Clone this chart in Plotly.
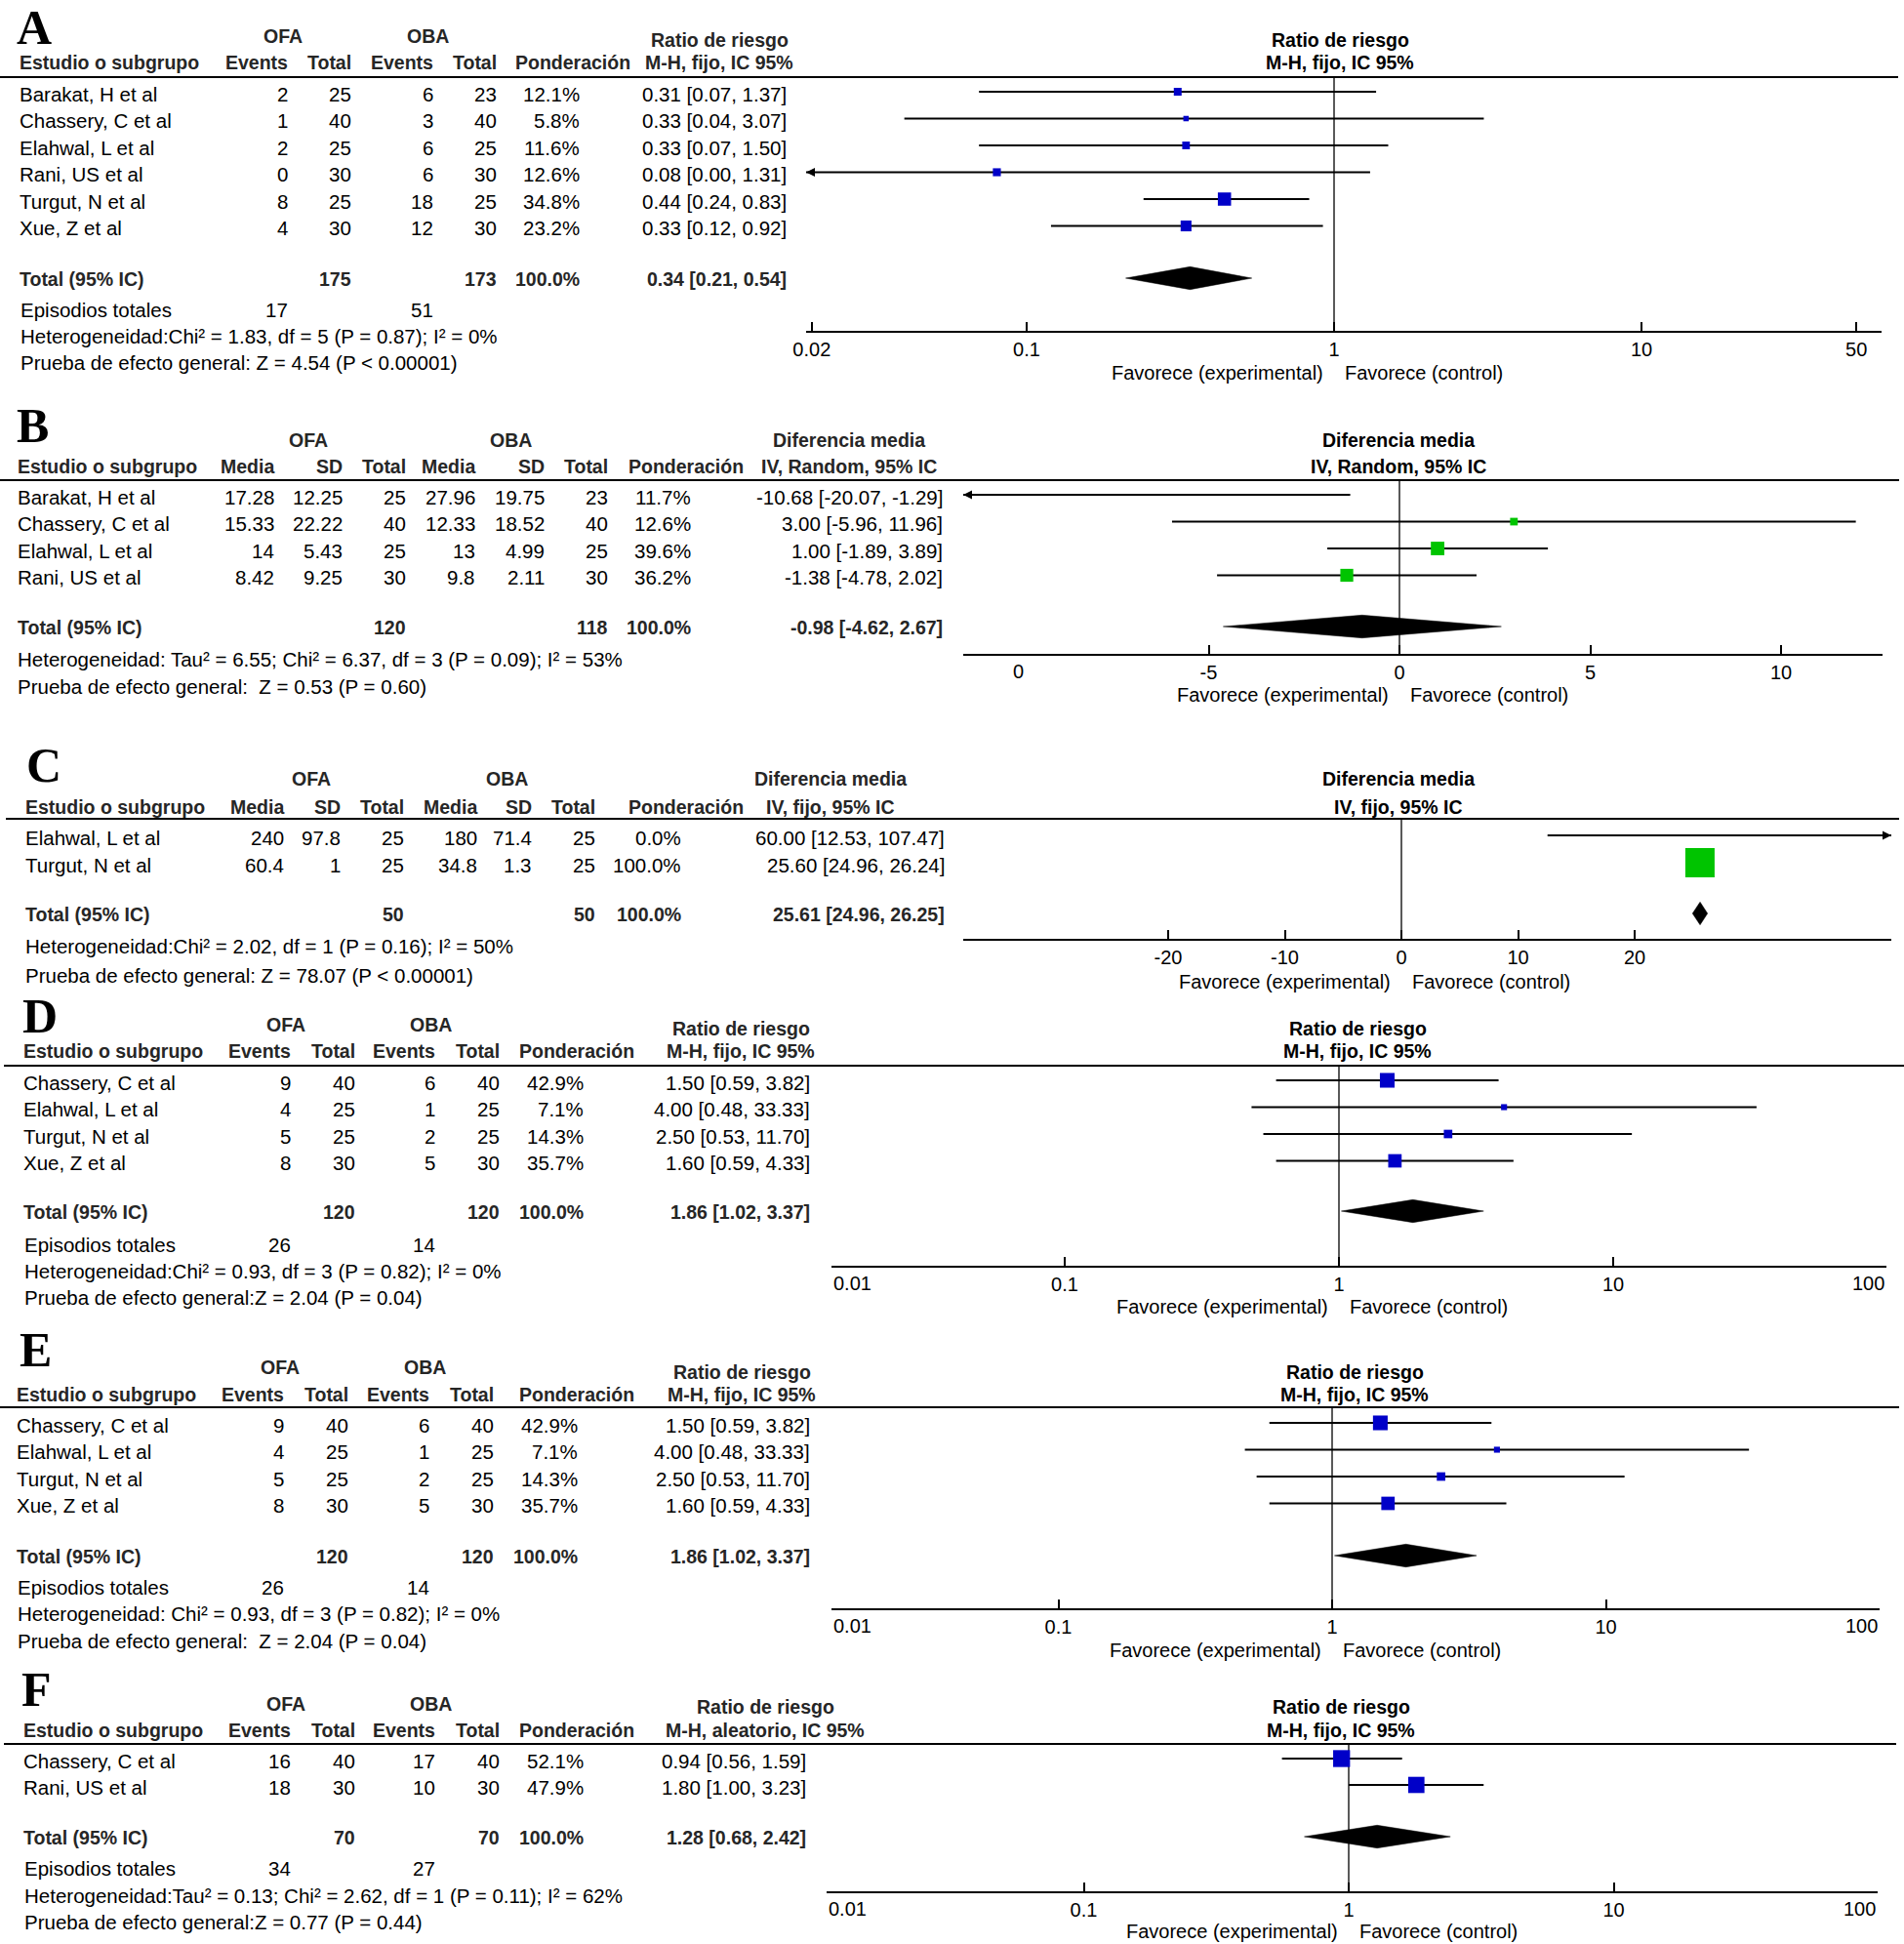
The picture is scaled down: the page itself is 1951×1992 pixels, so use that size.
import math
import plotly.graph_objects as go

W, H = 1951, 1992
SANS = "Liberation Sans, Arial, Helvetica, sans-serif"
SERIF = "Liberation Serif, Times New Roman, serif"
BLUE = "#0000C8"
GREEN = "#00C400"
HDR = "#262626"

# ---------------- Panel A ----------------
A_studies = ["Barakat, H et al", "Chassery, C et al", "Elahwal, L et al",
             "Rani, US et al", "Turgut, N et al", "Xue, Z et al"]
A_ofa_events = [2, 1, 2, 0, 8, 4]
A_ofa_total = [25, 40, 25, 30, 25, 30]
A_oba_events = [6, 3, 6, 6, 18, 12]
A_oba_total = [23, 40, 25, 30, 25, 30]
A_weight = [12.1, 5.8, 11.6, 12.6, 34.8, 23.2]
A_est = [0.31, 0.33, 0.33, 0.08, 0.44, 0.33]
A_lo = [0.07, 0.04, 0.07, 0.00, 0.24, 0.12]
A_hi = [1.37, 3.07, 1.50, 1.31, 0.83, 0.92]
A_total_n = [175, 173]
A_total_events = [17, 51]
A_total_ci = [0.34, 0.21, 0.54]
A_het = "Heterogeneidad:Chi² = 1.83, df = 5 (P = 0.87); I² = 0%"
A_test = "Prueba de efecto general: Z = 4.54 (P &lt; 0.00001)"
A_ticks = [0.02, 0.1, 1, 10, 50]
A_ticklabels = ["0.02", "0.1", "1", "10", "50"]

# ---------------- Panel B ----------------
B_studies = ["Barakat, H et al", "Chassery, C et al", "Elahwal, L et al", "Rani, US et al"]
B_ofa_mean = [17.28, 15.33, 14, 8.42]
B_ofa_sd = [12.25, 22.22, 5.43, 9.25]
B_ofa_total = [25, 40, 25, 30]
B_oba_mean = [27.96, 12.33, 13, 9.8]
B_oba_sd = [19.75, 18.52, 4.99, 2.11]
B_oba_total = [23, 40, 25, 30]
B_weight = [11.7, 12.6, 39.6, 36.2]
B_est = [-10.68, 3.00, 1.00, -1.38]
B_lo = [-20.07, -5.96, -1.89, -4.78]
B_hi = [-1.29, 11.96, 3.89, 2.02]
B_show = [False, True, True, True]
B_total_n = [120, 118]
B_total_ci = [-0.98, -4.62, 2.67]
B_het = "Heterogeneidad: Tau² = 6.55; Chi² = 6.37, df = 3 (P = 0.09); I² = 53%"
B_test = "Prueba de efecto general:\u00a0 Z = 0.53 (P = 0.60)"
B_ticks = [-5, 0, 5, 10]
B_ticklabels = ["-5", "0", "5", "10"]
B_extra_tick = [-10]
B_extra_label = ["0"]

# ---------------- Panel C ----------------
C_studies = ["Elahwal, L et al", "Turgut, N et al"]
C_ofa_mean = [240, 60.4]
C_ofa_sd = [97.8, 1]
C_ofa_total = [25, 25]
C_oba_mean = [180, 34.8]
C_oba_sd = [71.4, 1.3]
C_oba_total = [25, 25]
C_weight = [0.0, 100.0]
C_est = [60.00, 25.60]
C_lo = [12.53, 24.96]
C_hi = [107.47, 26.24]
C_total_n = [50, 50]
C_total_ci = [25.61, 24.96, 26.25]
C_het = "Heterogeneidad:Chi² = 2.02, df = 1 (P = 0.16); I² = 50%"
C_test = "Prueba de efecto general: Z = 78.07 (P &lt; 0.00001)"
C_ticks = [-20, -10, 0, 10, 20]
C_ticklabels = ["-20", "-10", "0", "10", "20"]

# ---------------- Panel D ----------------
D_studies = ["Chassery, C et al", "Elahwal, L et al", "Turgut, N et al", "Xue, Z et al"]
D_ofa_events = [9, 4, 5, 8]
D_ofa_total = [40, 25, 25, 30]
D_oba_events = [6, 1, 2, 5]
D_oba_total = [40, 25, 25, 30]
D_weight = [42.9, 7.1, 14.3, 35.7]
D_est = [1.50, 4.00, 2.50, 1.60]
D_lo = [0.59, 0.48, 0.53, 0.59]
D_hi = [3.82, 33.33, 11.70, 4.33]
D_total_n = [120, 120]
D_total_events = [26, 14]
D_total_ci = [1.86, 1.02, 3.37]
D_het = "Heterogeneidad:Chi² = 0.93, df = 3 (P = 0.82); I² = 0%"
D_test = "Prueba de efecto general:Z = 2.04 (P = 0.04)"

# ---------------- Panel E ----------------
E_studies = ["Chassery, C et al", "Elahwal, L et al", "Turgut, N et al", "Xue, Z et al"]
E_ofa_events = [9, 4, 5, 8]
E_ofa_total = [40, 25, 25, 30]
E_oba_events = [6, 1, 2, 5]
E_oba_total = [40, 25, 25, 30]
E_weight = [42.9, 7.1, 14.3, 35.7]
E_est = [1.50, 4.00, 2.50, 1.60]
E_lo = [0.59, 0.48, 0.53, 0.59]
E_hi = [3.82, 33.33, 11.70, 4.33]
E_total_n = [120, 120]
E_total_events = [26, 14]
E_total_ci = [1.86, 1.02, 3.37]
E_het = "Heterogeneidad: Chi² = 0.93, df = 3 (P = 0.82); I² = 0%"
E_test = "Prueba de efecto general:\u00a0 Z = 2.04 (P = 0.04)"

# ---------------- Panel F ----------------
F_studies = ["Chassery, C et al", "Rani, US et al"]
F_ofa_events = [16, 18]
F_ofa_total = [40, 30]
F_oba_events = [17, 10]
F_oba_total = [40, 30]
F_weight = [52.1, 47.9]
F_est = [0.94, 1.80]
F_lo = [0.56, 1.00]
F_hi = [1.59, 3.23]
F_total_n = [70, 70]
F_total_events = [34, 27]
F_total_ci = [1.28, 0.68, 2.42]
F_het = "Heterogeneidad:Tau² = 0.13; Chi² = 2.62, df = 1 (P = 0.11); I² = 62%"
F_test = "Prueba de efecto general:Z = 0.77 (P = 0.44)"

RR_ticks = [0.01, 0.1, 1, 10, 100]
RR_ticklabels = ["0.01", "0.1", "1", "10", "100"]

BIN_HEADERS = ["Events", "Total", "Events", "Total"]
CONT_HEADERS = ["Media", "SD", "Total", "Media", "SD", "Total"]

# ---------------- layout (pixel positions) ----------------
LAY = {
    "A": dict(letter=(16, 29), grp_y=38, group_x=[290, 438], meth_x=737, meth_y=[42, 65], hdr_y=65,
              name_x=18, col_right=[297, 362, 446, 511], pond_right=596, pond_hdr_x=587, ci_right=808,
              rule_y=79, rule_x=(0, 1945), row0=97, dy=27.5, total_y=287, epi_y=318, het_y=345, test_y=372,
              foot_x=19, fx=(826, 1928), null_px=1367, scale=315, axis_y=340, rmeth_x=1373, fav_y=383, k=2.3),
    "B": dict(letter=(16, 437), grp_y=452, group_x=[316, 523], meth_x=870, meth_y=[452, 479], hdr_y=479,
              name_x=16, col_right=[283, 353, 418, 489, 560, 625], pond_right=710, pond_hdr_x=703, ci_right=968,
              rule_y=492, rule_x=(0, 1946), row0=510, dy=27.5, total_y=644, epi_y=None, het_y=676, test_y=704,
              foot_x=16, fx=(987, 1929), null_px=1434, scale=39.1, axis_y=671, rmeth_x=1433, fav_y=713, k=2.2),
    "C": dict(letter=(26, 785), grp_y=799, group_x=[319, 519], meth_x=851, meth_y=[799, 828], hdr_y=828,
              name_x=24, col_right=[293, 351, 416, 491, 547, 612], pond_right=700, pond_hdr_x=703, ci_right=970,
              rule_y=839, rule_x=(6, 1946), row0=859, dy=28, total_y=938, epi_y=None, het_y=970, test_y=1000,
              foot_x=24, fx=(987, 1938), null_px=1436, scale=11.95, axis_y=963, rmeth_x=1433, fav_y=1007, k=3.0),
    "D": dict(letter=(22, 1042), grp_y=1051, group_x=[293, 441], meth_x=759, meth_y=[1055, 1078], hdr_y=1078,
              name_x=22, col_right=[300, 366, 448, 514], pond_right=600, pond_hdr_x=591, ci_right=832,
              rule_y=1092, rule_x=(4, 1951), row0=1110, dy=27.5, total_y=1243, epi_y=1276, het_y=1303, test_y=1330,
              foot_x=23, fx=(852, 1933), null_px=1372, scale=281, axis_y=1298, rmeth_x=1391, fav_y=1340, k=2.3),
    "E": dict(letter=(19, 1384), grp_y=1402, group_x=[287, 435], meth_x=760, meth_y=[1407, 1430], hdr_y=1430,
              name_x=15, col_right=[293, 359, 442, 508], pond_right=594, pond_hdr_x=591, ci_right=832,
              rule_y=1442, rule_x=(0, 1946), row0=1461, dy=27.5, total_y=1596, epi_y=1627, het_y=1654, test_y=1682,
              foot_x=16, fx=(852, 1926), null_px=1365, scale=280.5, axis_y=1649, rmeth_x=1388, fav_y=1692, k=2.3),
    "F": dict(letter=(21, 1732), grp_y=1747, group_x=[293, 441], meth_x=784, meth_y=[1750, 1774], hdr_y=1774,
              name_x=22, col_right=[300, 366, 448, 514], pond_right=600, pond_hdr_x=591, ci_right=828,
              rule_y=1787, rule_x=(4, 1943), row0=1805, dy=27, total_y=1884, epi_y=1915, het_y=1943, test_y=1970,
              foot_x=23, fx=(847, 1924), null_px=1382, scale=271.5, axis_y=1939, rmeth_x=1374, fav_y=1980, k=2.4),
}

panels = [
    dict(name="A", kind="bin", studies=A_studies, cols=[A_ofa_events, A_ofa_total, A_oba_events, A_oba_total],
         weight=A_weight, est=A_est, lo=A_lo, hi=A_hi, show=None, total_n=A_total_n, total_events=A_total_events,
         total_ci=A_total_ci, het=A_het, test=A_test, ticks=A_ticks, ticklabels=A_ticklabels, log=True,
         meth=["Ratio de riesgo", "M-H, fijo, IC 95%"], rmeth=["Ratio de riesgo", "M-H, fijo, IC 95%"], color=BLUE),
    dict(name="B", kind="cont", studies=B_studies,
         cols=[B_ofa_mean, B_ofa_sd, B_ofa_total, B_oba_mean, B_oba_sd, B_oba_total],
         weight=B_weight, est=B_est, lo=B_lo, hi=B_hi, show=B_show, total_n=B_total_n, total_events=None,
         total_ci=B_total_ci, het=B_het, test=B_test, ticks=B_ticks, ticklabels=B_ticklabels, log=False,
         extra=(B_extra_tick, B_extra_label),
         meth=["Diferencia media", "IV, Random, 95% IC"], rmeth=["Diferencia media", "IV, Random, 95% IC"], color=GREEN),
    dict(name="C", kind="cont", studies=C_studies,
         cols=[C_ofa_mean, C_ofa_sd, C_ofa_total, C_oba_mean, C_oba_sd, C_oba_total],
         weight=C_weight, est=C_est, lo=C_lo, hi=C_hi, show=None, total_n=C_total_n, total_events=None,
         total_ci=C_total_ci, het=C_het, test=C_test, ticks=C_ticks, ticklabels=C_ticklabels, log=False,
         meth=["Diferencia media", "IV, fijo, 95% IC"], rmeth=["Diferencia media", "IV, fijo, 95% IC"], color=GREEN),
    dict(name="D", kind="bin", studies=D_studies, cols=[D_ofa_events, D_ofa_total, D_oba_events, D_oba_total],
         weight=D_weight, est=D_est, lo=D_lo, hi=D_hi, show=None, total_n=D_total_n, total_events=D_total_events,
         total_ci=D_total_ci, het=D_het, test=D_test, ticks=RR_ticks, ticklabels=RR_ticklabels, log=True,
         meth=["Ratio de riesgo", "M-H, fijo, IC 95%"], rmeth=["Ratio de riesgo", "M-H, fijo, IC 95%"], color=BLUE),
    dict(name="E", kind="bin", studies=E_studies, cols=[E_ofa_events, E_ofa_total, E_oba_events, E_oba_total],
         weight=E_weight, est=E_est, lo=E_lo, hi=E_hi, show=None, total_n=E_total_n, total_events=E_total_events,
         total_ci=E_total_ci, het=E_het, test=E_test, ticks=RR_ticks, ticklabels=RR_ticklabels, log=True,
         meth=["Ratio de riesgo", "M-H, fijo, IC 95%"], rmeth=["Ratio de riesgo", "M-H, fijo, IC 95%"], color=BLUE),
    dict(name="F", kind="bin", studies=F_studies, cols=[F_ofa_events, F_ofa_total, F_oba_events, F_oba_total],
         weight=F_weight, est=F_est, lo=F_lo, hi=F_hi, show=None, total_n=F_total_n, total_events=F_total_events,
         total_ci=F_total_ci, het=F_het, test=F_test, ticks=RR_ticks, ticklabels=RR_ticklabels, log=True,
         meth=["Ratio de riesgo", "M-H, aleatorio, IC 95%"], rmeth=["Ratio de riesgo", "M-H, fijo, IC 95%"], color=BLUE),
]

DATA_SIZE = 20.5
HDR_SIZE = 19.5
TICK_SIZE = 20
LETTER_SIZE = 50
MARK_DY = -3
TEXT_DY = -1
TICKLABEL_DY = 17
DIAMOND_HALF = 11.7

annotations = []
shapes = []
axes = {}
fig = go.Figure()

# hidden pixel-space axes used for table text
fig.add_trace(go.Scatter(x=[], y=[], xaxis="x", yaxis="y", showlegend=False))


def txt(x, y, s, anchor="left", size=DATA_SIZE, color="black", bold=False, family=SANS, xref="x", xshift=0, pad=1):
    annotations.append(dict(x=x, y=y + TEXT_DY, xref=xref, yref="y", text=(f"<b>{s}</b>" if bold else s),
                            showarrow=False, xanchor=anchor, yanchor="middle", xshift=xshift, borderpad=pad,
                            font=dict(family=family, size=size, color=color)))


def fmt(v):
    return f"{v:g}"


for idx, p in enumerate(panels):
    L = LAY[p["name"]]
    aid = idx + 2
    xr = f"x{aid}"
    # ---- table text ----
    txt(L["letter"][0], L["letter"][1], p["name"], size=LETTER_SIZE, bold=True, family=SERIF, pad=0)
    for g, gx in zip(["OFA", "OBA"], L["group_x"]):
        txt(gx, L["grp_y"], g, anchor="center", size=HDR_SIZE, color=HDR, bold=True)
    headers = BIN_HEADERS if p["kind"] == "bin" else CONT_HEADERS
    txt(L["name_x"], L["hdr_y"], "Estudio o subgrupo", size=HDR_SIZE, color=HDR, bold=True)
    for h, cx in zip(headers, L["col_right"]):
        txt(cx, L["hdr_y"], h, anchor="right", size=HDR_SIZE, color=HDR, bold=True)
    txt(L["pond_hdr_x"], L["hdr_y"], "Ponderación", anchor="center", size=HDR_SIZE, color=HDR, bold=True)
    for line, my in zip(p["meth"], L["meth_y"]):
        txt(L["meth_x"], my, line, anchor="center", size=HDR_SIZE, color=HDR, bold=True)
    for line, my in zip(p["rmeth"], L["meth_y"]):
        txt(L["rmeth_x"], my, line, anchor="center", size=HDR_SIZE, color="black", bold=True)
    shapes.append(dict(type="line", xref="x", yref="y", x0=L["rule_x"][0], x1=L["rule_x"][1],
                       y0=L["rule_y"], y1=L["rule_y"], line=dict(color="black", width=2)))

    row_y = [L["row0"] + i * L["dy"] for i in range(len(p["studies"]))]
    for i, s in enumerate(p["studies"]):
        y = row_y[i]
        txt(L["name_x"], y, s)
        for col, cx in zip(p["cols"], L["col_right"]):
            txt(cx, y, fmt(col[i]), anchor="right")
        txt(L["pond_right"], y, f"{p['weight'][i]:.1f}%", anchor="right")
        txt(L["ci_right"], y, f"{p['est'][i]:.2f} [{p['lo'][i]:.2f}, {p['hi'][i]:.2f}]", anchor="right")

    ty = L["total_y"]
    txt(L["name_x"], ty, "Total (95% IC)", color=HDR, bold=True, size=HDR_SIZE)
    tot_cols = [1, 3] if p["kind"] == "bin" else [2, 5]
    for n, ci in zip(p["total_n"], tot_cols):
        txt(L["col_right"][ci], ty, fmt(n), anchor="right", color=HDR, bold=True, size=HDR_SIZE)
    txt(L["pond_right"], ty, "100.0%", anchor="right", color=HDR, bold=True, size=HDR_SIZE)
    te, tl, th = p["total_ci"]
    txt(L["ci_right"], ty, f"{te:.2f} [{tl:.2f}, {th:.2f}]", anchor="right", color=HDR, bold=True, size=HDR_SIZE)
    if p["total_events"] is not None:
        txt(L["foot_x"], L["epi_y"], "Episodios totales")
        for n, ci in zip(p["total_events"], [0, 2]):
            txt(L["col_right"][ci], L["epi_y"], fmt(n), anchor="right")
    txt(L["foot_x"], L["het_y"], p["het"])
    txt(L["foot_x"], L["test_y"], p["test"])

    # ---- forest axis ----
    rng = [(L["fx"][0] - L["null_px"]) / L["scale"], (L["fx"][1] - L["null_px"]) / L["scale"]]
    if p["log"]:
        lo_edge, hi_edge, null = 10 ** rng[0], 10 ** rng[1], 1
        lo_in, hi_in = lo_edge * 1.002, hi_edge * 0.998
    else:
        lo_edge, hi_edge, null = rng[0], rng[1], 0
        lo_in, hi_in = lo_edge, hi_edge
    tv, tt = [], []
    lab_y = L["axis_y"] + TICKLABEL_DY
    for v, lab in zip(p["ticks"], p["ticklabels"]):
        if v <= lo_in:
            # end tick pinned to the axis start; label drawn inward of it
            tv.append(lo_in); tt.append("")
            annotations.append(dict(x=rng[0], y=lab_y, xref=xr, yref="y", text=lab, showarrow=False,
                                    xanchor="left", yanchor="middle",
                                    font=dict(family=SANS, size=TICK_SIZE, color="black")))
        elif v >= hi_in:
            tv.append(hi_in); tt.append("")
            annotations.append(dict(x=rng[1], y=lab_y, xref=xr, yref="y", text=lab, showarrow=False,
                                    xanchor="right", yanchor="middle",
                                    font=dict(family=SANS, size=TICK_SIZE, color="black")))
        else:
            tv.append(v); tt.append(lab)
    axes[f"xaxis{aid}"] = dict(
        type="log" if p["log"] else "linear", range=rng, domain=[L["fx"][0] / W, L["fx"][1] / W],
        anchor="free", position=1 - L["axis_y"] / H, showline=True, linecolor="black", linewidth=2,
        ticks="inside", ticklen=9, tickwidth=1.5, tickcolor="black", tickvals=tv, ticktext=tt,
        tickfont=dict(family=SANS, size=TICK_SIZE, color="black"), showgrid=False, zeroline=False,
        fixedrange=True, automargin=False, ticklabelstandoff=0)
    if "extra" in p:
        for v, lab in zip(*p["extra"]):
            annotations.append(dict(x=v, y=lab_y, xref=xr, yref="y", text=lab, showarrow=False,
                                    xanchor="center", yanchor="middle",
                                    font=dict(family=SANS, size=TICK_SIZE, color="black")))
    # favours labels
    txt(0, L["fav_y"], "Favorece (experimental)", anchor="right", size=TICK_SIZE, xref=xr, xshift=-9)
    txt(0, L["fav_y"], "Favorece (control)", anchor="left", size=TICK_SIZE, xref=xr, xshift=9)

    # null line
    fig.add_trace(go.Scatter(x=[null, null], y=[L["rule_y"], L["axis_y"]], mode="lines",
                             line=dict(color="black", width=1.3), xaxis=xr, yaxis="y",
                             showlegend=False, hoverinfo="skip", cliponaxis=False))
    # CI lines + arrows
    cx, cy, al_x, al_y, ar_x, ar_y = [], [], [], [], [], []
    for i in range(len(p["studies"])):
        y = row_y[i] + MARK_DY
        lo, hi = p["lo"][i], p["hi"][i]
        a = lo if lo > lo_edge else lo_edge
        b = hi if hi < hi_edge else hi_edge
        cx += [a, b, None]
        cy += [y, y, None]
        if lo < lo_edge:
            al_x.append(lo_edge); al_y.append(y)
        if hi > hi_edge:
            ar_x.append(hi_edge); ar_y.append(y)
    fig.add_trace(go.Scatter(x=cx, y=cy, mode="lines", line=dict(color="black", width=1.8),
                             xaxis=xr, yaxis="y", showlegend=False, hoverinfo="skip", cliponaxis=False))
    if al_x:
        fig.add_trace(go.Scatter(x=al_x, y=al_y, mode="markers",
                                 marker=dict(symbol="arrow-left", size=9, color="black", opacity=1),
                                 xaxis=xr, yaxis="y", showlegend=False, hoverinfo="skip", cliponaxis=False))
    if ar_x:
        fig.add_trace(go.Scatter(x=ar_x, y=ar_y, mode="markers",
                                 marker=dict(symbol="arrow-right", size=9, color="black", opacity=1),
                                 xaxis=xr, yaxis="y", showlegend=False, hoverinfo="skip", cliponaxis=False))
    # study squares
    mx, my, ms = [], [], []
    for i in range(len(p["studies"])):
        e = p["est"][i]
        visible = p["show"][i] if p["show"] else True
        if visible and lo_edge <= e <= hi_edge and p["weight"][i] > 0:
            mx.append(e)
            my.append(row_y[i] + MARK_DY)
            ms.append(L["k"] * math.sqrt(p["weight"][i]))
    fig.add_trace(go.Scatter(x=mx, y=my, mode="markers",
                             marker=dict(symbol="square", size=ms, color=p["color"], opacity=1,
                                         line=dict(width=0)),
                             xaxis=xr, yaxis="y", showlegend=False, hoverinfo="skip", cliponaxis=False))
    # pooled diamond
    dy0 = ty + MARK_DY + 1
    fig.add_trace(go.Scatter(x=[tl, te, th, te, tl], y=[dy0, dy0 - DIAMOND_HALF, dy0, dy0 + DIAMOND_HALF, dy0],
                             mode="lines", fill="toself", fillcolor="black", line=dict(color="black", width=0.5),
                             xaxis=xr, yaxis="y", showlegend=False, hoverinfo="skip", cliponaxis=False))

fig.update_layout(
    width=W, height=H, margin=dict(l=0, r=0, t=0, b=0, pad=0, autoexpand=False),
    paper_bgcolor="white", plot_bgcolor="rgba(0,0,0,0)", showlegend=False,
    xaxis=dict(range=[0, W], domain=[0, 1], visible=False, fixedrange=True, automargin=False),
    yaxis=dict(range=[H, 0], domain=[0, 1], visible=False, fixedrange=True, automargin=False),
    annotations=annotations, shapes=shapes, **axes,
)

fig.write_html("out.html", config={"displayModeBar": False},
               post_script="document.body.style.margin='0';document.body.style.overflow='hidden';")
